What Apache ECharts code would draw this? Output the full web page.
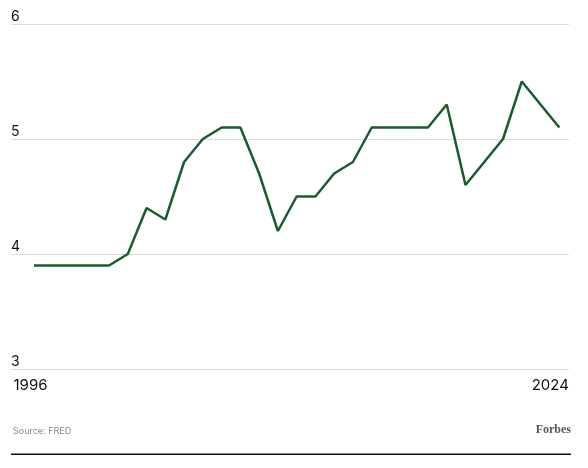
<!DOCTYPE html>
<html>
<head>
<meta charset="utf-8">
<script src="https://cdn.jsdelivr.net/npm/echarts@6/dist/echarts.min.js"></script>
<style>
html,body{margin:0;padding:0;background:#fff;}
#chart{width:588px;height:468px;}
</style>
</head>
<body>
<div id="chart"></div>
<script>
const years = [1996,1997,1998,1999,2000,2001,2002,2003,2004,2005,2006,2007,2008,2009,2010,2011,2012,2013,2014,2015,2016,2017,2018,2019,2020,2021,2022,2023,2024];
const values = [3.9,3.9,3.9,3.9,3.9,4.0,4.4,4.3,4.8,5.0,5.1,5.1,4.7,4.2,4.5,4.5,4.7,4.8,5.1,5.1,5.1,5.1,5.3,4.6,4.8,5.0,5.5,5.3,5.1];
const xTickLabels = [1996, 2024];
const yTicks = [3, 4, 5, 6];
const sourceText = 'Source: FRED';
const brandText = 'Forbes';

const chart = echarts.init(document.getElementById('chart'), null, {renderer:'canvas'});
const seriesData = years.map((y, i) => [y, values[i]]);
chart.setOption({
  animation: false,
  grid: {left: 11, right: 19, top: 24, bottom: 99, containLabel: false},
  xAxis: {
    type: 'value',
    min: 1994.774,
    max: 2024.517,
    axisLine: {show: false},
    axisTick: {show: false},
    splitLine: {show: false},
    axisLabel: {
      customValues: xTickLabels,
      margin: 9,
      fontFamily: 'Inter',
      fontSize: 15,
      color: '#111',
      formatter: function (v) {
        return v === xTickLabels[0] ? '{a|' + v + '}' : '{b|' + v + '}';
      },
      rich: {
        a: {fontFamily: 'Inter', fontSize: 15, color: '#111', padding: [0, 7, 0, 0]},
        b: {fontFamily: 'Inter', fontSize: 15, color: '#111', padding: [0, 18, 0, 0]}
      }
    }
  },
  yAxis: {
    type: 'value',
    min: yTicks[0],
    max: yTicks[yTicks.length - 1],
    interval: 1,
    axisLine: {show: false},
    axisTick: {show: false},
    splitLine: {show: true, lineStyle: {color: '#dcdcdc', width: 1}},
    axisLabel: {
      inside: true,
      margin: 0,
      verticalAlign: 'bottom',
      padding: [0, 0, 0, 0],
      fontFamily: 'Inter',
      fontSize: 14,
      color: '#111'
    }
  },
  series: [{
    type: 'line',
    data: seriesData,
    showSymbol: false,
    symbol: 'none',
    lineStyle: {color: '#1c5a30', width: 2.5},
    itemStyle: {color: '#1c5a30'}
  }],
  graphic: [
    {type: 'text', left: 13, top: 427, style: {text: sourceText, fontFamily: 'Inter', fontSize: 9, fill: '#8a8a8a'}},
    {type: 'text', right: 17, top: 424, style: {text: brandText, fontFamily: 'Liberation Serif', fontWeight: 'bold', fontSize: 12, fill: '#555'}},
    {type: 'rect', shape: {x: 11, y: 453.5, width: 560, height: 1.5}, style: {fill: '#111'}}
  ]
});
</script>
</body>
</html>
